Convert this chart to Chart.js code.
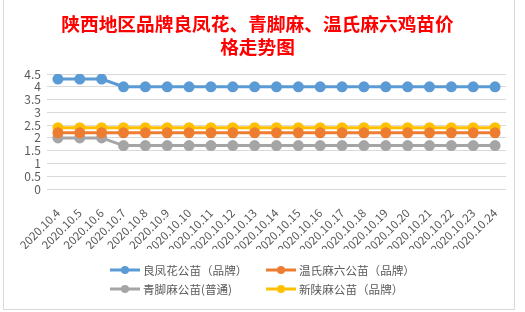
<!DOCTYPE html>
<html>
<head>
<meta charset="UTF-8">
<title>陕西地区鸡苗价格走势图</title>
<script src="https://cdn.jsdelivr.net/npm/chart.js"></script>
<style>
  body { margin: 0; background: #fff; font-family: "Noto Sans CJK SC", "Noto Sans", sans-serif; }
  #box { position: absolute; left: 3px; top: 0; width: 510px; height: 309px; border: 1px solid #d9d9d9; border-top: none; }
  #leyenda { position: absolute; left: 0; top: 0; width: 100%; height: 100%; pointer-events: none; }
  .item { position: absolute; display: flex; align-items: center; font-size: 11.6px; color: #595959; white-space: nowrap; }
  .item canvas { margin-right: 3px; }
</style>
</head>
<body>
<div id="box"><canvas id="grafica"></canvas><div id="leyenda"></div></div>
<script>
// fechas (eje X)
const fechas = ['2020.10.4', '2020.10.5', '2020.10.6', '2020.10.7', '2020.10.8', '2020.10.9', '2020.10.10',
  '2020.10.11', '2020.10.12', '2020.10.13', '2020.10.14', '2020.10.15', '2020.10.16', '2020.10.17',
  '2020.10.18', '2020.10.19', '2020.10.20', '2020.10.21', '2020.10.22', '2020.10.23', '2020.10.24'];

// precios por serie
const liangfenghua = [4.3, 4.3, 4.3, 4.0, 4.0, 4.0, 4.0, 4.0, 4.0, 4.0, 4.0, 4.0, 4.0, 4.0, 4.0, 4.0, 4.0, 4.0, 4.0, 4.0, 4.0];
const wenshi = [2.2, 2.2, 2.2, 2.2, 2.2, 2.2, 2.2, 2.2, 2.2, 2.2, 2.2, 2.2, 2.2, 2.2, 2.2, 2.2, 2.2, 2.2, 2.2, 2.2, 2.2];
const qingjiaoma = [2.0, 2.0, 2.0, 1.7, 1.7, 1.7, 1.7, 1.7, 1.7, 1.7, 1.7, 1.7, 1.7, 1.7, 1.7, 1.7, 1.7, 1.7, 1.7, 1.7, 1.7];
const xinshanma = [2.4, 2.4, 2.4, 2.4, 2.4, 2.4, 2.4, 2.4, 2.4, 2.4, 2.4, 2.4, 2.4, 2.4, 2.4, 2.4, 2.4, 2.4, 2.4, 2.4, 2.4];

const nombres = ['良凤花公苗（品牌）', '温氏麻六公苗（品牌）', '青脚麻公苗(普通)', '新陕麻公苗（品牌）'];
const colores = ['#5b9bd5', '#ed7d31', '#a5a5a5', '#ffc000'];

const fuente = '"Noto Sans CJK SC", "Noto Sans", sans-serif';

// marcador de la leyenda: linea con punto
function marcador(color) {
  const c = document.createElement('canvas');
  c.width = 30; c.height = 10;
  const g = c.getContext('2d');
  g.strokeStyle = color; g.lineWidth = 3;
  g.beginPath(); g.moveTo(0, 5); g.lineTo(30, 5); g.stroke();
  g.fillStyle = color;
  g.beginPath(); g.arc(15, 5, 4, 0, Math.PI * 2); g.fill();
  return c;
}

// leyenda en 2 columnas como en Excel
const posLeyenda = [[106, 271], [262, 271], [106, 290], [262, 290]];
const leyenda = document.getElementById('leyenda');
nombres.forEach((n, i) => {
  const d = document.createElement('div');
  d.className = 'item';
  d.style.left = posLeyenda[i][0] + 'px';
  d.style.top = (posLeyenda[i][1] - 9) + 'px';
  d.appendChild(marcador(colores[i]));
  const s = document.createElement('span');
  s.textContent = n;
  d.appendChild(s);
  leyenda.appendChild(d);
});

function serie(i, datos) {
  return {
    label: nombres[i],
    data: datos,
    borderColor: colores[i],
    backgroundColor: colores[i],
    borderWidth: 3,
    pointRadius: 4,
    pointHoverRadius: 4,
    tension: 0
  };
}

const ctx = document.getElementById('grafica');
new Chart(ctx, {
  type: 'line',
  data: {
    labels: fechas,
    datasets: [
      serie(0, liangfenghua),
      serie(1, wenshi),
      serie(2, qingjiaoma),
      serie(3, xinshanma)
    ]
  },
  options: {
    responsive: true,
    maintainAspectRatio: false,
    animation: false,
    layout: { padding: { left: 3, right: 6, top: 0, bottom: 60 } },
    plugins: {
      title: {
        display: true,
        text: ['陕西地区品牌良凤花、青脚麻、温氏麻六鸡苗价', '格走势图'],
        color: '#ff0000',
        font: { family: fuente, size: 18.7, weight: 'bold', lineHeight: 1.23 },
        padding: { top: 12, bottom: 16 }
      },
      legend: { display: false },
      tooltip: { enabled: false }
    },
    scales: {
      x: {
        offset: true,
        grid: { display: false },
        border: { display: false },
        afterFit: (s) => { s.height = 60; },
        ticks: {
          color: '#595959',
          font: { family: fuente, size: 11.5 },
          maxRotation: 45,
          minRotation: 45,
          autoSkip: false,
          padding: 9
        }
      },
      y: {
        min: 0,
        max: 4.5,
        afterFit: (s) => { s.width = 40; },
        grid: { color: '#d9d9d9', drawTicks: false },
        border: { display: false },
        ticks: {
          count: 10,
          autoSkip: false,
          padding: 6,
          color: '#595959',
          font: { family: fuente, size: 12, lineHeight: 1 },
          callback: (v) => String(Math.round(v * 10) / 10)
        }
      }
    }
  }
});
</script>
</body>
</html>
